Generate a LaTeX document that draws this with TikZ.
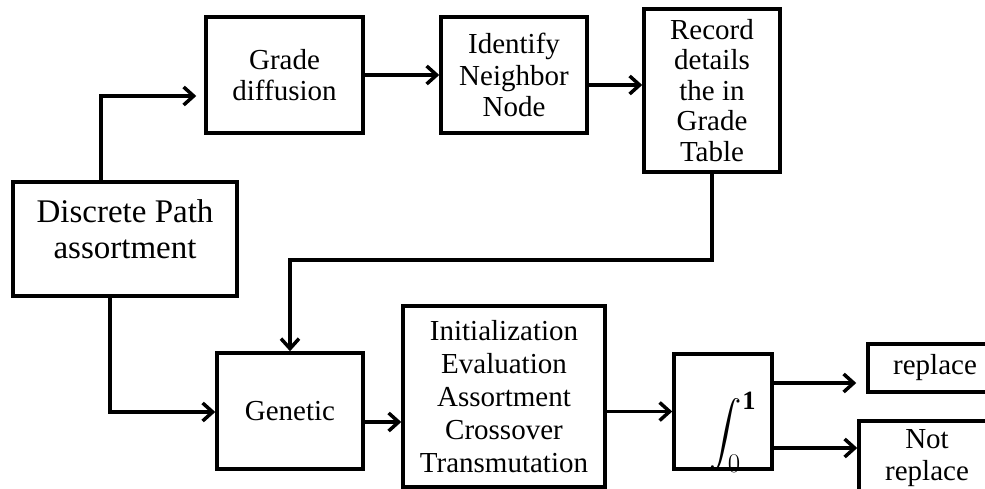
\documentclass[tikz,border=0pt]{standalone}
\usepackage{amsmath}
\usepackage{graphicx}
\usepackage{fontspec}
\setmainfont{Liberation Serif}
\usetikzlibrary{arrows.meta,calc}
\begin{document}
\begin{tikzpicture}[x=1pt,y=-1pt,
  box/.style={draw,line width=3.5pt,inner sep=0pt,align=center,font=\fontsize{29}{31.5}\selectfont},
  txt/.style={inner sep=0pt,align=center},
  arr/.style={line width=3.5pt,-{Straight Barb[length=10pt,width=18pt,line width=3.5pt]}},
]
\useasboundingbox (0,0) rectangle (985,489);
\clip (0,0) rectangle (985,489);

\node[box,minimum width=224pt,minimum height=114pt] (disc) at (125,239) {};
\node[txt,font=\fontsize{33}{36}\selectfont] (disctxt) at (125,229) {Discrete Path\\assortment};
\node[box,minimum width=157pt,minimum height=116pt] (grade) at (284.5,75) {Grade\\diffusion};
\node[box,minimum width=146pt,minimum height=116pt] (ident) at (514,75) {Identify\\Neighbor\\Node};
\node[box,minimum width=136pt,minimum height=163pt,font=\fontsize{29}{30.5}\selectfont] (record) at (712,90.5) {Record\\details\\the in\\Grade\\Table};
\node[box,minimum width=146pt,minimum height=116pt] (genetic) at (290,411) {Genetic};
\node[box,minimum width=202pt,minimum height=181pt,font=\fontsize{29}{33}\selectfont] (init) at (504,396.5) {Initialization\\Evaluation\\Assortment\\Crossover\\Transmutation};
\node[box,minimum width=98pt,minimum height=115pt] (integ) at (723,411.5) {};
\node[txt] (intsym) at (733,432) {\scalebox{1.3}{\fontsize{29}{29}\selectfont$\displaystyle\int_{0}^{\mathbf{1}}$}};
\node[box,minimum width=134pt,minimum height=48pt] (replace) at (935,368) {replace};
\node[box,minimum width=136pt,minimum height=74pt] (notrep) at (927,458) {Not\\replace};

\coordinate (p1) at (101,96);
\draw[arr,shorten >=8pt] (disc.north -| p1) |- (grade.west |- p1);
\draw[arr] (grade.east) -- (ident.west);
\coordinate (p2) at (600,85);
\draw[arr] (ident.east |- p2) -- (record.west |- p2);
\draw[arr] (record.south) -- ++(0,86) -| (genetic.north);
\coordinate (p3) at (110,412);
\draw[arr] (disc.south -| p3) |- (genetic.west |- p3);
\coordinate (p4) at (380,422);
\draw[arr] (genetic.east |- p4) -- (init.west |- p4);
\draw[arr] (init.east |- integ.west) -- (integ.west);
\coordinate (p5) at (800,383);
\draw[arr,shorten >=10pt] (integ.east |- p5) -- (replace.west |- p5);
\coordinate (p6) at (800,448);
\draw[arr] (integ.east |- p6) -- (notrep.west |- p6);
\end{tikzpicture}
\end{document}
